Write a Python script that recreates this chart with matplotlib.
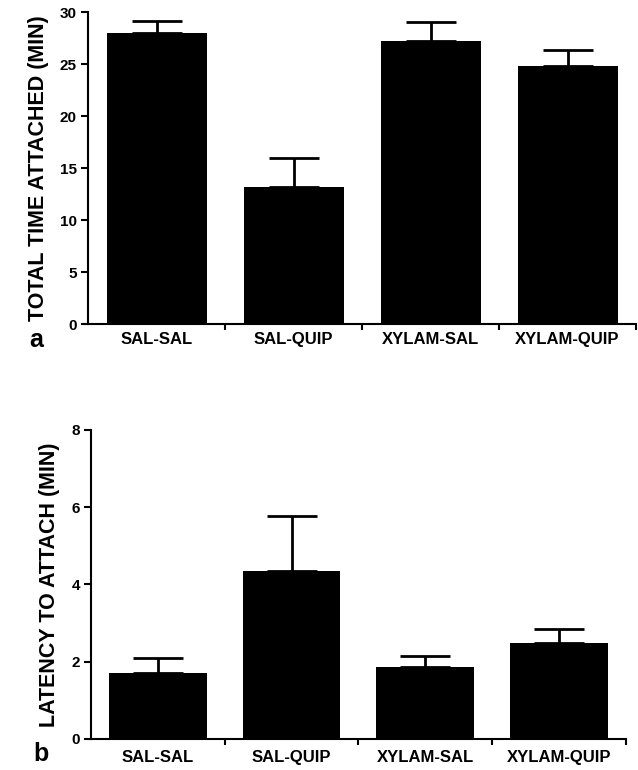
import matplotlib.pyplot as plt
import numpy as np

# groups and values
groups = ['SAL-SAL', 'SAL-QUIP', 'XYLAM-SAL', 'XYLAM-QUIP']
total_time = [28.0, 13.2, 27.2, 24.8]
total_time_sem = [1.2, 2.8, 1.9, 1.6]
latency = [1.70, 4.35, 1.87, 2.49]
latency_sem = [0.39, 1.41, 0.28, 0.37]

plt.rcParams['font.family'] = ['Liberation Sans', 'DejaVu Sans']
plt.rcParams['font.weight'] = 'bold'

fig = plt.figure(figsize=(6.38, 7.7), dpi=100)
ax_a = fig.add_axes([0.138, 0.579, 0.859, 0.405])
ax_b = fig.add_axes([0.1426, 0.0403, 0.8384, 0.4013])

def draw_panel(ax, means, sems, ymax, yticks, ylabel, letter, xpad):
    x = np.arange(len(groups))
    ax.bar(x, means, width=0.73, color='black', zorder=2)
    # only the upper half of the error bar is shown
    ax.errorbar(x, means, yerr=[[0] * len(sems), sems], fmt='none',
                ecolor='black', elinewidth=2, capsize=18, capthick=2, zorder=1)
    ax.set_xlim(-0.5, len(groups) - 0.5)
    ax.set_ylim(0, ymax)
    ax.set_yticks(yticks)
    ax.set_yticklabels([str(t) for t in yticks], fontsize=11, fontweight='bold')
    ax.set_xticks(x)
    ax.set_xticklabels(groups, fontsize=12, fontweight='bold', va='baseline')
    ax.tick_params(axis='x', which='major', length=0, pad=xpad)
    # small ticks between the groups
    ax.set_xticks(np.arange(len(groups)) + 0.5, minor=True)
    ax.tick_params(axis='x', which='minor', length=4, width=1.5, direction='out')
    ax.tick_params(axis='y', length=5, width=1.5, direction='out', pad=3)
    for s in ['top', 'right']:
        ax.spines[s].set_visible(False)
    for s in ['left', 'bottom']:
        ax.spines[s].set_linewidth(1.5)
    ax.set_ylabel(ylabel, fontsize=15.5, fontweight='bold', labelpad=8)
    ax.text(-0.094, -0.05, letter, transform=ax.transAxes, fontsize=18,
            fontweight='bold', ha='center', va='center')

draw_panel(ax_a, total_time, total_time_sem, 30, [0, 5, 10, 15, 20, 25, 30],
           'TOTAL TIME ATTACHED (MIN)', 'a', 14)
draw_panel(ax_b, latency, latency_sem, 8, [0, 2, 4, 6, 8],
           'LATENCY TO ATTACH (MIN)', 'b', 16.5)

plt.savefig('out.png', dpi=100)
